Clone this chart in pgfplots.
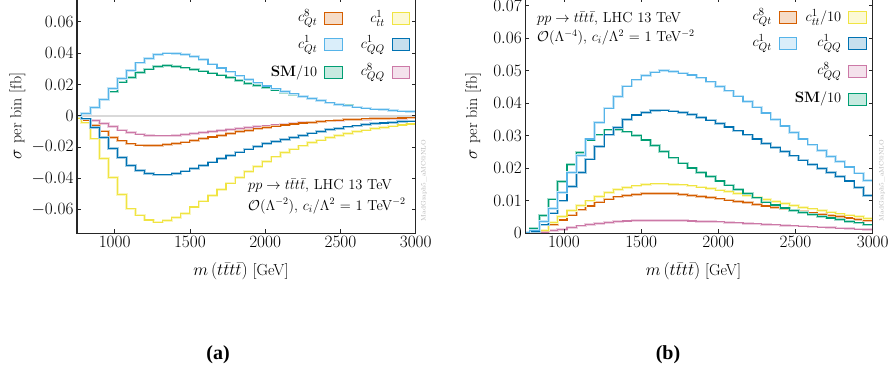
\documentclass[border=0pt]{standalone}
\usepackage{pgfplots}
\pgfplotsset{compat=1.18}
\usepackage{pgfplotstable}
\usepackage{fontspec}
\newfontfamily\tnr{Liberation Serif}

\definecolor{cOr}{HTML}{D55E00}
\definecolor{cSky}{HTML}{56B4E9}
\definecolor{cGr}{HTML}{009E73}
\definecolor{cYe}{HTML}{F0E442}
\definecolor{cBl}{HTML}{0072B2}
\definecolor{cPk}{HTML}{CC79A7}

\newcommand\fT{\fontsize{16}{19}\selectfont}
\newcommand\fL{\fontsize{15}{18}\selectfont}
\newcommand\fA{\fontsize{14.5}{17}\selectfont}

\pgfplotstableread{
x     qt8     qt1    sm     tt1     qq1     qq8
720  -0.0004  0.0000 0.0000 -0.0015  0.0000 -0.0004
780  -0.0028  0.0015 0.0015 -0.0045 -0.0020 -0.0023
840  -0.0060  0.0053 0.0050 -0.0147 -0.0075 -0.0030
900  -0.0098  0.0104 0.0100 -0.0272 -0.0140 -0.0049
960  -0.0138  0.0174 0.0153 -0.0394 -0.0209 -0.0070
1020 -0.0160  0.0238 0.0215 -0.0504 -0.0266 -0.0091
1080 -0.0179  0.0290 0.0245 -0.0594 -0.0317 -0.0106
1140 -0.0187  0.0338 0.0278 -0.0634 -0.0351 -0.0117
1200 -0.0189  0.0366 0.0298 -0.0665 -0.0368 -0.0124
1260 -0.0189  0.0390 0.0313 -0.0679 -0.0377 -0.0128
1320 -0.0184  0.0400 0.0320 -0.0668 -0.0377 -0.0128
1380 -0.0178  0.0398 0.0316 -0.0650 -0.0368 -0.0125
1440 -0.0168  0.0390 0.0306 -0.0622 -0.0353 -0.0120
1500 -0.0157  0.0378 0.0296 -0.0582 -0.0336 -0.0114
1560 -0.0146  0.0360 0.0285 -0.0545 -0.0317 -0.0108
1620 -0.0135  0.0330 0.0272 -0.0508 -0.0296 -0.0101
1680 -0.0124  0.0305 0.0260 -0.0470 -0.0274 -0.0094
1740 -0.0113  0.0280 0.0244 -0.0430 -0.0253 -0.0088
1800 -0.0102  0.0255 0.0225 -0.0392 -0.0232 -0.0081
1860 -0.0092  0.0230 0.0205 -0.0355 -0.0213 -0.0075
1920 -0.0083  0.0210 0.0192 -0.0322 -0.0195 -0.0069
1980 -0.0074  0.0190 0.0178 -0.0290 -0.0178 -0.0064
2040 -0.0066  0.0172 0.0164 -0.0262 -0.0163 -0.0058
2100 -0.0059  0.0156 0.0150 -0.0236 -0.0150 -0.0053
2160 -0.0052  0.0140 0.0136 -0.0213 -0.0137 -0.0048
2220 -0.0046  0.0125 0.0122 -0.0192 -0.0124 -0.0044
2280 -0.0041  0.0110 0.0108 -0.0172 -0.0111 -0.0040
2340 -0.0036  0.0097 0.0096 -0.0155 -0.0099 -0.0036
2400 -0.0032  0.0083 0.0083 -0.0139 -0.0089 -0.0033
2460 -0.0028  0.0072 0.0073 -0.0125 -0.0080 -0.0030
2520 -0.0025  0.0063 0.0064 -0.0112 -0.0071 -0.0027
2580 -0.0022  0.0055 0.0056 -0.0101 -0.0064 -0.0025
2640 -0.0020  0.0049 0.0049 -0.0091 -0.0057 -0.0023
2700 -0.0018  0.0043 0.0043 -0.0082 -0.0051 -0.0021
2760 -0.0016  0.0039 0.0038 -0.0074 -0.0046 -0.0019
2820 -0.0015  0.0034 0.0034 -0.0066 -0.0042 -0.0017
2880 -0.0014  0.0030 0.0030 -0.0059 -0.0038 -0.0016
2940 -0.0013  0.0026 0.0026 -0.0052 -0.0034 -0.0015
3000 -0.0013  0.0026 0.0026 -0.0052 -0.0034 -0.0015
}\tabA

\pgfplotstableread{
x     qt8    qt1    sm     tt1    qq1    qq8
720  0.0000 0.0002 0.0002 0.0000 0.0001 0.0000
780  0.0002 0.0010 0.0015 0.0002 0.0005 0.0001
840  0.0008 0.0036 0.0054 0.0010 0.0026 0.0002
900  0.0026 0.0077 0.0105 0.0033 0.0062 0.0008
960  0.0041 0.0125 0.0159 0.0051 0.0100 0.0012
1020 0.0056 0.0187 0.0212 0.0070 0.0144 0.0017
1080 0.0072 0.0240 0.0249 0.0086 0.0187 0.0023
1140 0.0084 0.0290 0.0287 0.0100 0.0228 0.0028
1200 0.0096 0.0341 0.0303 0.0113 0.0267 0.0031
1260 0.0105 0.0385 0.0318 0.0125 0.0303 0.0034
1320 0.0112 0.0420 0.0320 0.0134 0.0325 0.0036
1380 0.0117 0.0453 0.0312 0.0141 0.0351 0.0038
1440 0.0120 0.0472 0.0300 0.0146 0.0364 0.0039
1500 0.0122 0.0486 0.0287 0.0150 0.0372 0.0040
1560 0.0123 0.0496 0.0270 0.0152 0.0377 0.0040
1620 0.0123 0.0500 0.0251 0.0152 0.0379 0.0040
1680 0.0122 0.0498 0.0232 0.0151 0.0376 0.0040
1740 0.0120 0.0493 0.0216 0.0149 0.0372 0.0039
1800 0.0117 0.0487 0.0201 0.0146 0.0365 0.0038
1860 0.0114 0.0478 0.0187 0.0142 0.0357 0.0037
1920 0.0110 0.0466 0.0174 0.0138 0.0348 0.0036
1980 0.0106 0.0452 0.0161 0.0133 0.0338 0.0035
2040 0.0102 0.0438 0.0148 0.0128 0.0327 0.0033
2100 0.0098 0.0422 0.0135 0.0122 0.0315 0.0032
2160 0.0094 0.0405 0.0122 0.0116 0.0303 0.0030
2220 0.0089 0.0388 0.0109 0.0110 0.0290 0.0029
2280 0.0084 0.0370 0.0096 0.0104 0.0277 0.0027
2340 0.0079 0.0350 0.0087 0.0098 0.0264 0.0026
2400 0.0075 0.0330 0.0078 0.0092 0.0251 0.0024
2460 0.0071 0.0310 0.0070 0.0086 0.0238 0.0023
2520 0.0067 0.0290 0.0064 0.0080 0.0225 0.0022
2580 0.0063 0.0272 0.0058 0.0075 0.0212 0.0020
2640 0.0059 0.0254 0.0052 0.0070 0.0199 0.0019
2700 0.0055 0.0237 0.0047 0.0065 0.0187 0.0018
2760 0.0051 0.0220 0.0042 0.0060 0.0174 0.0016
2820 0.0047 0.0204 0.0037 0.0056 0.0161 0.0015
2880 0.0043 0.0185 0.0032 0.0051 0.0140 0.0013
2940 0.0039 0.0162 0.0026 0.0046 0.0117 0.0012
3000 0.0039 0.0162 0.0026 0.0046 0.0117 0.0012
}\tabB

\pgfplotsset{myax/.style={
  scale only axis, anchor=south west,
  xmin=750, xmax=3000, xtick={1000,1500,2000,2500,3000},
  axis line style={line width=1.4pt, black!85},
  tick style={line width=0.8pt, black!85},
  major tick length=4pt, tick align=inside,
  axis on top,
  tick label style={font=\fT},
  label style={font=\fT},
  xticklabel style={/pgf/number format/1000 sep={}},
  yticklabel style={/pgf/number format/fixed, /pgf/number format/precision=2},
  scaled y ticks=false,
  xlabel={$m\,(t\bar{t}t\bar{t})$ [GeV]},
  ylabel={$\sigma$ per bin [fb]},
  xlabel style={at={(axis description cs:0.484,-0.1604)}, anchor=center},
}}

\newcommand\hist[3]{%
  \addplot[const plot, #3!35, line width=2.6pt, forget plot] table[x=x, y=#2] {#1};
  \addplot[const plot, #3, line width=1.1pt, forget plot] table[x=x, y=#2] {#1};}

\newcommand\legbox[4]{%
  \draw[#3, line width=1pt, fill=#3!22] (#1pt,#2pt-6pt) rectangle ++(17.5pt,12pt);
  \node[anchor=east, font=\fL, inner sep=0pt] at (#1pt-7pt,#2pt) {#4};}

\begin{document}
\begin{tikzpicture}
\useasboundingbox (0,0) rectangle (890pt,373pt);

% ---------- panel (a)
\begin{axis}[myax, at={(77pt,139.7pt)}, width=338.7pt, height=235pt,
  ymin=-0.075, ymax=0.075,
  ytick={-0.06,-0.04,-0.02,0,0.02,0.04,0.06},
  ylabel style={at={(axis description cs:-0.1757,0.5)}, anchor=center}]
\addplot[gray!30, line width=2pt, forget plot] coordinates {(750,0) (3000,0)};
\hist{\tabA}{qq8}{cPk}
\hist{\tabA}{qt8}{cOr}
\hist{\tabA}{tt1}{cYe}
\hist{\tabA}{qq1}{cBl}
\hist{\tabA}{sm}{cGr}
\hist{\tabA}{qt1}{cSky}
\end{axis}

% ---------- panel (b)
\begin{axis}[myax, at={(525.3pt,139.7pt)}, width=347.4pt, height=235pt,
  ymin=0, ymax=0.0723,
  ytick={0,0.01,0.02,0.03,0.04,0.05,0.06,0.07},
  ylabel style={at={(axis description cs:-0.1505,0.5)}, anchor=center}]
\hist{\tabB}{qq8}{cPk}
\hist{\tabB}{qt8}{cOr}
\hist{\tabB}{tt1}{cYe}
\hist{\tabB}{sm}{cGr}
\hist{\tabB}{qq1}{cBl}
\hist{\tabB}{qt1}{cSky}
\end{axis}

% ---------- legends
\legbox{324.5}{354.7}{cOr}{$c^{8}_{Qt}$}
\legbox{392}{354.7}{cYe}{$c^{1}_{tt}$}
\legbox{324.5}{328}{cSky}{$c^{1}_{Qt}$}
\legbox{392}{328}{cBl}{$c^{1}_{QQ}$}
\legbox{324.5}{300.3}{cGr}{{\bfseries SM}$/10$}
\legbox{392}{300.3}{cPk}{$c^{8}_{QQ}$}

\legbox{779}{355.7}{cOr}{$c^{8}_{Qt}$}
\legbox{848.5}{355.7}{cYe}{$c^{1}_{tt}/10$}
\legbox{779}{329.7}{cSky}{$c^{1}_{Qt}$}
\legbox{848.5}{329.7}{cBl}{$c^{1}_{QQ}$}
\legbox{848.5}{301.3}{cPk}{$c^{8}_{QQ}$}
\legbox{848.5}{273.7}{cGr}{{\bfseries SM}$/10$}

% ---------- annotations
\node[anchor=west, font=\fA, inner sep=0pt] at (248pt,187pt) {$pp\to t\bar{t}t\bar{t}$, LHC 13 TeV};
\node[anchor=west, font=\fA, inner sep=0pt] at (248pt,167pt) {$\mathcal{O}(\Lambda^{-2})$, $c_i/\Lambda^2$ = 1 TeV$^{-2}$};
\node[anchor=west, font=\fA, inner sep=0pt] at (537pt,354pt) {$pp\to t\bar{t}t\bar{t}$, LHC 13 TeV};
\node[anchor=west, font=\fA, inner sep=0pt] at (537pt,335.3pt) {$\mathcal{O}(\Lambda^{-4})$, $c_i/\Lambda^2$ = 1 TeV$^{-2}$};

\node[rotate=90, font=\fontsize{6.5}{7}\selectfont, text=gray!60, inner sep=0pt] at (424pt,192.5pt) {MadGraph5\_aMC@NLO};
\node[rotate=90, font=\fontsize{6.5}{7}\selectfont, text=gray!60, inner sep=0pt] at (882pt,192.5pt) {MadGraph5\_aMC@NLO};

\node[font=\tnr\bfseries\fontsize{20}{24}\selectfont] at (218pt,18pt) {(a)};
\node[font=\tnr\bfseries\fontsize{20}{24}\selectfont] at (668pt,18pt) {(b)};
\end{tikzpicture}
\end{document}
